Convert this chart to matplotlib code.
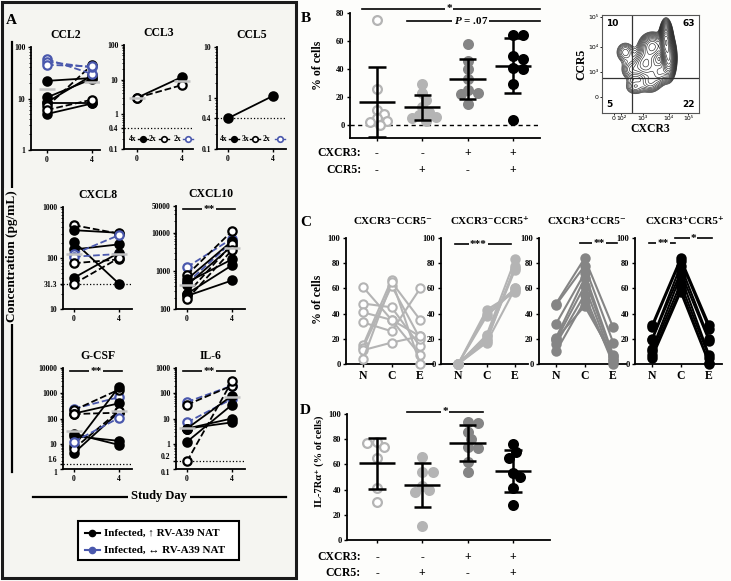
import numpy as np
import matplotlib
matplotlib.use('Agg')
import matplotlib.pyplot as plt
from matplotlib.patches import Rectangle
from matplotlib.lines import Line2D
from matplotlib.ticker import LogLocator, NullFormatter

# ---------------- data ----------------
# panel A: cytokines (pg/mL) at day 0 and day 4; kind f = filled black, o = open black, b = open blue
ccl2_d0 = [22, 10.5, 8.5, 8, 5, 7, 6, 58, 52, 45]
ccl2_d4 = [25, 24, 28, 8, 8, 45, 9.5, 30, 40, 42]
ccl2_kind = ['f', 'f', 'f', 'f', 'f', 'o', 'o', 'b', 'b', 'b']
ccl2_med = [15, 21]

ccl3_d0 = [3, 3]
ccl3_d4 = [12, 7]
ccl3_kind = ['f', 'o']
ccl3_med = [3, 9]

ccl5_d0 = [0.4]
ccl5_d4 = [1.1]
ccl5_kind = ['f']

cxcl8_d0 = [440, 351, 208, 147, 120, 106, 79, 41, 31.3]
cxcl8_d4 = [300, 312, 31.3, 185, 281, 120, 94, 127, 100]
cxcl8_kind = ['o', 'f', 'f', 'f', 'b', 'b', 'o', 'f', 'o']
cxcl8_med = [120, 120]

cxcl10_d0 = [1250, 480, 780, 600, 500, 420, 250, 250, 220, 180]
cxcl10_d4 = [7000, 5700, 11000, 6000, 2000, 4500, 5000, 1400, 560, 3500]
cxcl10_kind = ['b', 'b', 'o', 'f', 'f', 'f', 'o', 'f', 'f', 'o']
cxcl10_med = [430, 4000]

gcsf_d0 = [245, 215, 157, 150, 25, 20, 8, 4.3, 6.4, 12]
gcsf_d4 = [700, 1400, 400, 170, 9, 13, 1800, 180, 200, 106]
gcsf_kind = ['b', 'o', 'f', 'o', 'f', 'f', 'f', 'f', 'o', 'b']
gcsf_med = [33, 200]

il6_d0 = [45, 35, 7, 4, 4, 4, 1.2, 0.2]
il6_d4 = [200, 200, 60, 80, 10, 7, 35, 300]
il6_kind = ['b', 'o', 'b', 'f', 'f', 'f', 'f', 'o']
il6_med = [4.3, 70]

# panel B: % of cells per CXCR3/CCR5 subset
b_dn = [75, 26, 11, 8, 5, 3, 2, 0]
b_r5 = [29, 23, 18, 13, 9.5, 7.4, 6, 4.8, 3]
b_r3 = [58, 46, 40, 33, 25, 23, 22, 15]
b_dp = [64, 64, 49, 47, 41, 40, 29, 3.6]
cxcr3_signs = ['-', '-', '+', '+']
ccr5_signs = ['-', '+', '-', '+']

# flow plot quadrant percentages and density clusters (axis fraction units)
quad_vals = ['10', '63', '5', '22']
flow_cx = [0.66, 0.69, 0.52, 0.45, 0.24, 0.34, 0.50, 0.30, 0.60]
flow_cy = [0.74, 0.56, 0.68, 0.50, 0.62, 0.27, 0.31, 0.44, 0.42]
flow_sx = [0.03, 0.035, 0.07, 0.07, 0.055, 0.06, 0.06, 0.06, 0.05]
flow_sy = [0.09, 0.10, 0.07, 0.08, 0.06, 0.05, 0.06, 0.06, 0.07]
flow_w = [3.0, 2.2, 1.0, 0.8, 0.35, 0.3, 0.4, 0.35, 0.6]

# panel C: % of cells in naive (N), central memory (C), effector memory (E)
c_titles = ['CXCR3⁻CCR5⁻', 'CXCR3⁻CCR5⁺', 'CXCR3⁺CCR5⁻', 'CXCR3⁺CCR5⁺']
c1_n = [61, 48, 41, 33, 15, 13, 11, 4]
c1_c = [35, 45, 35, 26, 67, 62, 17, 65]
c1_e = [22, 14, 7, 60, 0, 20, 22, 35]
c2_n = [0, 0, 0, 0, 0, 0, 0, 0]
c2_c = [43, 40, 38, 23, 22, 20, 18, 17]
c2_e = [57, 60, 59, 83, 76, 75, 78, 60]
c3_n = [48, 47, 32, 21, 19, 16, 10, 20]
c3_c = [84, 78, 72, 68, 62, 55, 50, 46]
c3_e = [29, 17, 7, 5, 2, 0, 3, 6]
c4_n = [31, 29, 20, 19, 12, 10, 7, 5]
c4_c = [84, 82, 78, 73, 70, 64, 60, 57]
c4_e = [31, 28, 20, 18, 7, 5, 1, 0]
nce = ['N', 'C', 'E']

# panel D: IL-7Ra+ (% of cells)
d_dn = [78, 74, 77, 65, 41, 30]
d_r5 = [66, 54, 54, 43, 40, 38, 11]
d_r3 = [94, 93, 86, 80, 74, 73, 62, 54]
d_dp = [76, 70, 65, 53, 50, 41, 28]

# ---------------- style ----------------
W, H = 731, 581
BG = '#fdfdfb'
A_BG = '#f5f5f1'
BLUE = '#4a58ad'
LGRAY = '#b4b4b4'
MGRAY = '#858585'
SERIF = ['Liberation Serif', 'DejaVu Serif']
plt.rcParams['font.family'] = SERIF
plt.rcParams['font.weight'] = 'bold'
plt.rcParams['axes.labelweight'] = 'bold'
plt.rcParams['mathtext.fontset'] = 'custom'
plt.rcParams['mathtext.it'] = 'Liberation Serif:italic:bold'
plt.rcParams['mathtext.rm'] = 'Liberation Serif:bold'

fig = plt.figure(figsize=(W / 100, H / 100), dpi=100, facecolor=BG)


def px_axes(l, t, r, b):
    return fig.add_axes([l / W, 1 - b / H, (r - l) / W, (b - t) / H])


def txt(x, y, s, **kw):
    kw.setdefault('ha', 'center')
    kw.setdefault('va', 'center')
    return fig.text(x / W, 1 - y / H, s, **kw)


def fline(xs, ys, **kw):
    fig.add_artist(Line2D([x / W for x in xs], [1 - y / H for y in ys],
                          transform=fig.transFigure, **kw))


# ---------------- panel A ----------------
fig.add_artist(Rectangle((2 / W, 1 - 578 / H), 294 / W, 576 / H, transform=fig.transFigure,
                         fc=A_BG, ec='#1a1a1a', lw=2.2, zorder=0))
txt(11, 20, 'A', size=11)


def cyto(box, zero_px, title, d0, d4, kind, med, ylim, yt, ytl, lod=None, stars=False):
    l, t, r, b = box
    ax = px_axes(l, t, r, b)
    ax.patch.set_visible(False)
    ax.set_yscale('log')
    ax.set_ylim(ylim)
    s = 11.25
    ax.set_xlim(-(zero_px - l) / s, (r - zero_px) / s)
    for sp in ['top', 'right']:
        ax.spines[sp].set_visible(False)
    for sp in ['left', 'bottom']:
        ax.spines[sp].set_linewidth(1.3)
    ax.set_xticks([0, 4], ['0', '4'])
    ax.set_yticks(yt, ytl)
    ax.yaxis.set_minor_locator(LogLocator(10, subs=np.arange(2, 10), numticks=30))
    ax.yaxis.set_minor_formatter(NullFormatter())
    ax.tick_params(labelsize=5.5, width=1, length=2.5, pad=1.5)
    ax.tick_params(which='minor', length=1.5, width=0.6)
    if lod:
        ax.axhline(lod, color='k', ls=':', lw=0.9)
    for a, e, k in zip(d0, d4, kind):
        c = BLUE if k == 'b' else 'k'
        ls = '-' if k == 'f' else '--'
        fc = c if k == 'f' else 'white'
        ax.plot([0, 4], [a, e], color=c, ls=ls, lw=1.3, marker='o', ms=6, mfc=fc,
                mec=c, mew=1.6, clip_on=False, zorder=3)
    if med:
        for x, m in zip([0, 4], med):
            ax.plot([x - 0.75, x + 0.75], [m, m], color='#c2c2c2', lw=1.8, zorder=4,
                    solid_capstyle='butt')
    if stars:
        ax.plot([-0.4, 4.3], [0.97, 0.97], color='k', lw=1.2,
                transform=ax.get_xaxis_transform(), clip_on=False)
        ax.text(1.95, 0.97, '**', transform=ax.get_xaxis_transform(), ha='center',
                va='center', size=8, bbox=dict(fc=A_BG, ec='none', pad=0.8))
    txt((l + r) / 2, t - 12, title, size=8.5)
    return ax


ax_ccl2 = cyto((31, 47, 100, 150), 47, 'CCL2', ccl2_d0, ccl2_d4, ccl2_kind, ccl2_med,
               (1, 100), [1, 10, 100], ['1', '10', '100'])
ax_ccl3 = cyto((124, 45, 193, 149), 137, 'CCL3', ccl3_d0, ccl3_d4, ccl3_kind, ccl3_med,
               (0.1, 100), [0.1, 0.4, 1, 10, 100], ['0.1', '0.4', '1', '10', '100'], lod=0.4)
ax_ccl5 = cyto((217, 47, 286, 149), 228, 'CCL5', ccl5_d0, ccl5_d4, ccl5_kind, None,
               (0.1, 10), [0.1, 0.4, 1, 10], ['0.1', '0.4', '1', '10'], lod=0.4)
cyto((63, 207, 132, 309), 74, 'CXCL8', cxcl8_d0, cxcl8_d4, cxcl8_kind, cxcl8_med,
     (10, 1000), [10, 31.3, 100, 1000], ['10', '31.3', '100', '1000'], lod=31.3)
cyto((176, 206, 245, 309), 187, 'CXCL10', cxcl10_d0, cxcl10_d4, cxcl10_kind, cxcl10_med,
     (100, 50000), [100, 1000, 10000, 50000], ['100', '1000', '10000', '50000'], stars=True)
ax_gcsf = cyto((63, 368, 132, 469), 74, 'G-CSF', gcsf_d0, gcsf_d4, gcsf_kind, gcsf_med,
               (1, 10000), [1, 1.6, 10, 100, 1000, 10000],
               ['1', '1.6', '10', '100', '1000', '10000'], lod=1.6, stars=True)
ax_il6 = cyto((176, 368, 245, 469), 187, 'IL-6', il6_d0, il6_d4, il6_kind, il6_med,
              (0.1, 1000), [0.1, 0.2, 1, 10, 100, 1000],
              ['0.1', '0.2', '1', '10', '100', '1000'], lod=0.2, stars=True)
# keep the close "1" / "1.6" and "0.1" / "0.2" labels apart
for axx in (ax_gcsf, ax_il6):
    labs = axx.get_yticklabels()
    labs[0].set_va('top')
    labs[1].set_va('bottom')


def counts(ax, labels, xs):
    # "4x ● 2x ○ 2x ○" key at the bottom of the CCL3/CCL5 axes
    tr = ax.transAxes
    ax.text(xs[0], 0.1, labels[0], transform=tr, ha='center', va='center', size=5.5)
    ax.text(xs[2], 0.1, labels[1], transform=tr, ha='center', va='center', size=5.5)
    ax.text(xs[4], 0.1, labels[2], transform=tr, ha='center', va='center', size=5.5)
    for x, c, fc in [(xs[1], 'k', 'k'), (xs[3], 'k', 'white'), (xs[5], BLUE, 'white')]:
        ax.plot([x - 0.07, x + 0.07], [0.1, 0.1], color=c, lw=1, transform=tr, clip_on=False)
        ax.plot([x], [0.1], marker='o', ms=4, mfc=fc, mec=c, mew=1.2, transform=tr,
                clip_on=False)


counts(ax_ccl3, ['4x', '2x', '2x'], [0.13, 0.28, 0.41, 0.58, 0.77, 0.93])
counts(ax_ccl5, ['4x', '3x', '2x'], [0.1, 0.25, 0.41, 0.55, 0.72, 0.91])

fline([12, 12], [42, 472], color='k', lw=1.6)
txt(12, 256, 'Concentration (pg/mL)', rotation=90, size=9.5,
    bbox=dict(fc=A_BG, ec='none', pad=1.5))
fline([33, 286], [497, 497], color='k', lw=1.6)
txt(159, 496, 'Study Day', size=9, bbox=dict(fc=A_BG, ec='none', pad=2))

fig.add_artist(Rectangle((78 / W, 1 - 560 / H), 161 / W, 39 / H, transform=fig.transFigure,
                         fc='white', ec='k', lw=1.5))
for yy, c, lab in [(533, 'k', 'Infected, ↑ RV-A39 NAT'), (550, BLUE, 'Infected, ↔ RV-A39 NAT')]:
    fline([85, 100], [yy, yy], color=c, lw=1.5)
    fig.add_artist(Line2D([92 / W], [1 - yy / H], transform=fig.transFigure, marker='o',
                          ms=4.5, color=c, mfc=c, mec=c))
    txt(104, yy, lab, ha='left', size=8)


# ---------------- dot plots (B, D) ----------------
def swarm(vals, py, pxu, diam=8.5):
    placed, offs = [], []
    cands = [0]
    for i in range(1, 12):
        cands += [i * 3.5, -i * 3.5]
    for v in vals:
        y = v * py
        for c in cands:
            if all((c - px0) ** 2 + (y - py0) ** 2 >= (diam * 0.92) ** 2 for px0, py0 in placed):
                break
        placed.append((c, y))
        offs.append(c / pxu)
    return np.array(offs)


group_styles = [('white', LGRAY), (LGRAY, LGRAY), (MGRAY, MGRAY), ('k', 'k')]


def dot_panel(ax, groups, py, pxu):
    for gi, (vals, (fc, ec)) in enumerate(zip(groups, group_styles)):
        x = gi + 1
        offs = swarm(vals, py, pxu)
        ax.scatter(x + offs, vals, s=40, facecolors=fc, edgecolors=ec, linewidths=1.6,
                   zorder=3, clip_on=False)
        m, sd = np.mean(vals), np.std(vals, ddof=1)
        kw = dict(color='k', lw=1.8, zorder=4, solid_capstyle='butt')
        ax.plot([x - 0.4, x + 0.4], [m, m], **kw)
        ax.plot([x, x], [m - sd, m + sd], **kw)
        ax.plot([x - 0.19, x + 0.19], [m + sd] * 2, **kw)
        ax.plot([x - 0.19, x + 0.19], [m - sd] * 2, **kw)
    for sp in ['top', 'right']:
        ax.spines[sp].set_visible(False)
    for sp in ['left', 'bottom']:
        ax.spines[sp].set_linewidth(1.3)
    ax.set_xticks([1, 2, 3, 4], [])
    ax.tick_params(labelsize=6, width=1, length=2.5, pad=1.5)
    ax.patch.set_visible(False)


def sig(ax, x0, x1, y, s, xt=None, bg=BG, size=8):
    ax.plot([x0, x1], [y, y], color='k', lw=1.2, clip_on=False)
    ax.text((x0 + x1) / 2 if xt is None else xt, y, s, ha='center', va='center', size=size,
            bbox=dict(fc=bg, ec='none', pad=0.8), clip_on=False)


def signs(ax, y3, y5, xl):
    ax.text(xl, y3, 'CXCR3:', ha='right', va='center', size=8.5)
    ax.text(xl, y5, 'CCR5:', ha='right', va='center', size=8.5)
    for i in range(4):
        ax.text(i + 1, y3, cxcr3_signs[i], ha='center', va='center', size=8.5)
        ax.text(i + 1, y5, ccr5_signs[i], ha='center', va='center', size=8.5)


# B
axb = px_axes(350, 6, 540, 138)
axb.set_ylim(-9.3, 85)
axb.set_xlim(0.404, 4.6)
axb.axhline(0, color='k', ls='--', lw=1, dashes=(3, 2.5))
dot_panel(axb, [b_dn, b_r5, b_r3, b_dp], 1.4, 45.3)
axb.spines['left'].set_bounds(-9.3, 80)
axb.set_yticks([0, 20, 40, 60, 80])
axb.set_ylabel('% of cells', size=8.5, labelpad=3)
axb.yaxis.set_label_coords(-0.135, 0.55)
sig(axb, 0.67, 4.6, 82.9, '*', xt=2.59)
sig(axb, 1.66, 4.6, 74.3, '$P$ = .07', xt=3.07)
signs(axb, -20, -32.1, 0.647)
txt(306, 19, 'B', size=11)

# flow inset
fa = px_axes(602, 15, 699, 113)
gx, gy = np.meshgrid(np.linspace(0, 1, 220), np.linspace(0, 1, 220))
dens = np.zeros_like(gx)
for cx, cy, sx, sy, w in zip(flow_cx, flow_cy, flow_sx, flow_sy, flow_w):
    dens += w * np.exp(-((gx - cx) ** 2 / (2 * sx ** 2) + (gy - cy) ** 2 / (2 * sy ** 2)))
levels = np.geomspace(dens.max() * 0.03, dens.max() * 0.97, 20)
fa.contour(gx, gy, dens, levels=levels, colors='#2a2a2a', linewidths=0.45)
fa.axvline(0.31, color='#333', lw=0.9)
fa.axhline(0.36, color='#333', lw=0.9)
fa.set_xlim(0, 1)
fa.set_ylim(0, 1)
for sp in fa.spines.values():
    sp.set_linewidth(0.8)
    sp.set_color('#555')
fa.set_xticks([0.12, 0.2, 0.42, 0.69, 0.89], ['0', '10²', '10³', '10⁴', '10⁵'],
              family='DejaVu Sans', weight='normal')
fa.set_yticks([0.16, 0.42, 0.67, 0.98], ['0', '10³', '10⁴', '10⁵'],
              family='DejaVu Sans', weight='normal')
fa.tick_params(labelsize=4.5, length=1.5, width=0.6, pad=1)
for (x, y, ha, va), s in zip([(0.04, 0.96, 'left', 'top'), (0.96, 0.96, 'right', 'top'),
                              (0.04, 0.04, 'left', 'bottom'), (0.96, 0.04, 'right', 'bottom')],
                             quad_vals):
    fa.text(x, y, s, transform=fa.transAxes, ha=ha, va=va, size=6.5,
            family='DejaVu Sans', weight='bold')
fa.set_xlabel('CXCR3', size=8.5, labelpad=1)
fa.set_ylabel('CCR5', size=8.5, labelpad=1)

# ---------------- panel C ----------------
txt(306, 222, 'C', size=11)
c_data = [(c1_n, c1_c, c1_e), (c2_n, c2_c, c2_e), (c3_n, c3_c, c3_e), (c4_n, c4_c, c4_e)]
c_styles = [('white', LGRAY), (LGRAY, LGRAY), (MGRAY, MGRAY), ('k', 'k')]
c_left = [346, 441, 539, 635]
c_center = [393, 490, 587, 685]
c_axes = []
for i, ((n, c, e), (fc, ec)) in enumerate(zip(c_data, c_styles)):
    l = c_left[i]
    ax = px_axes(l, 235.5, l + 87, 364)
    ax.patch.set_visible(False)
    for a, b_, d in zip(n, c, e):
        ax.plot([0, 1, 2], [a, b_, d], color=ec, lw=1.5, marker='o', ms=6, mfc=fc, mec=ec,
                mew=1.5, clip_on=False, zorder=3)
    ax.set_ylim(0, 102)
    ax.set_xlim(-0.6, 2.45)
    ax.spines['left'].set_bounds(0, 100)
    for sp in ['top', 'right']:
        ax.spines[sp].set_visible(False)
    for sp in ['left', 'bottom']:
        ax.spines[sp].set_linewidth(1.3)
    ax.set_yticks([0, 20, 40, 60, 80, 100])
    ax.set_xticks([0, 1, 2], nce)
    ax.tick_params(axis='y', labelsize=6, width=1, length=2.5, pad=1.5)
    ax.tick_params(axis='x', labelsize=8.5, width=1, length=2.5, pad=2)
    txt(c_center[i], 222, c_titles[i], size=8, family=SERIF)
    c_axes.append(ax)
c_axes[0].set_ylabel('% of cells', size=8.5, labelpad=3)
sig(c_axes[1], -0.1, 1.85, 95, '***', xt=0.7)
sig(c_axes[2], 0.85, 2.15, 96, '**', xt=1.5)
sig(c_axes[3], -0.1, 0.8, 96, '**', xt=0.38)
sig(c_axes[3], 0.8, 2.1, 100, '*', xt=1.45)

# ---------------- panel D ----------------
axd = px_axes(347, 409, 550, 540)
axd.set_ylim(0, 104)
axd.set_xlim(1 - 30 / 45.3, 1 + 173 / 45.3)
dot_panel(axd, [d_dn, d_r5, d_r3, d_dp], 1.26, 45.3)
axd.spines['left'].set_bounds(0, 100)
axd.set_yticks([0, 20, 40, 60, 80, 100])
axd.set_ylabel('IL-7Rα⁺ (% of cells)', size=7.5)
axd.yaxis.set_label_coords(-0.115, 0.6)
sig(axd, 1.66, 3.34, 102, '*')
signs(axd, -13.5, -26.2, 1 - 16 / 45.3)
txt(305, 411, 'D', size=11)

fig.savefig('out.png', dpi=100, facecolor=BG)
